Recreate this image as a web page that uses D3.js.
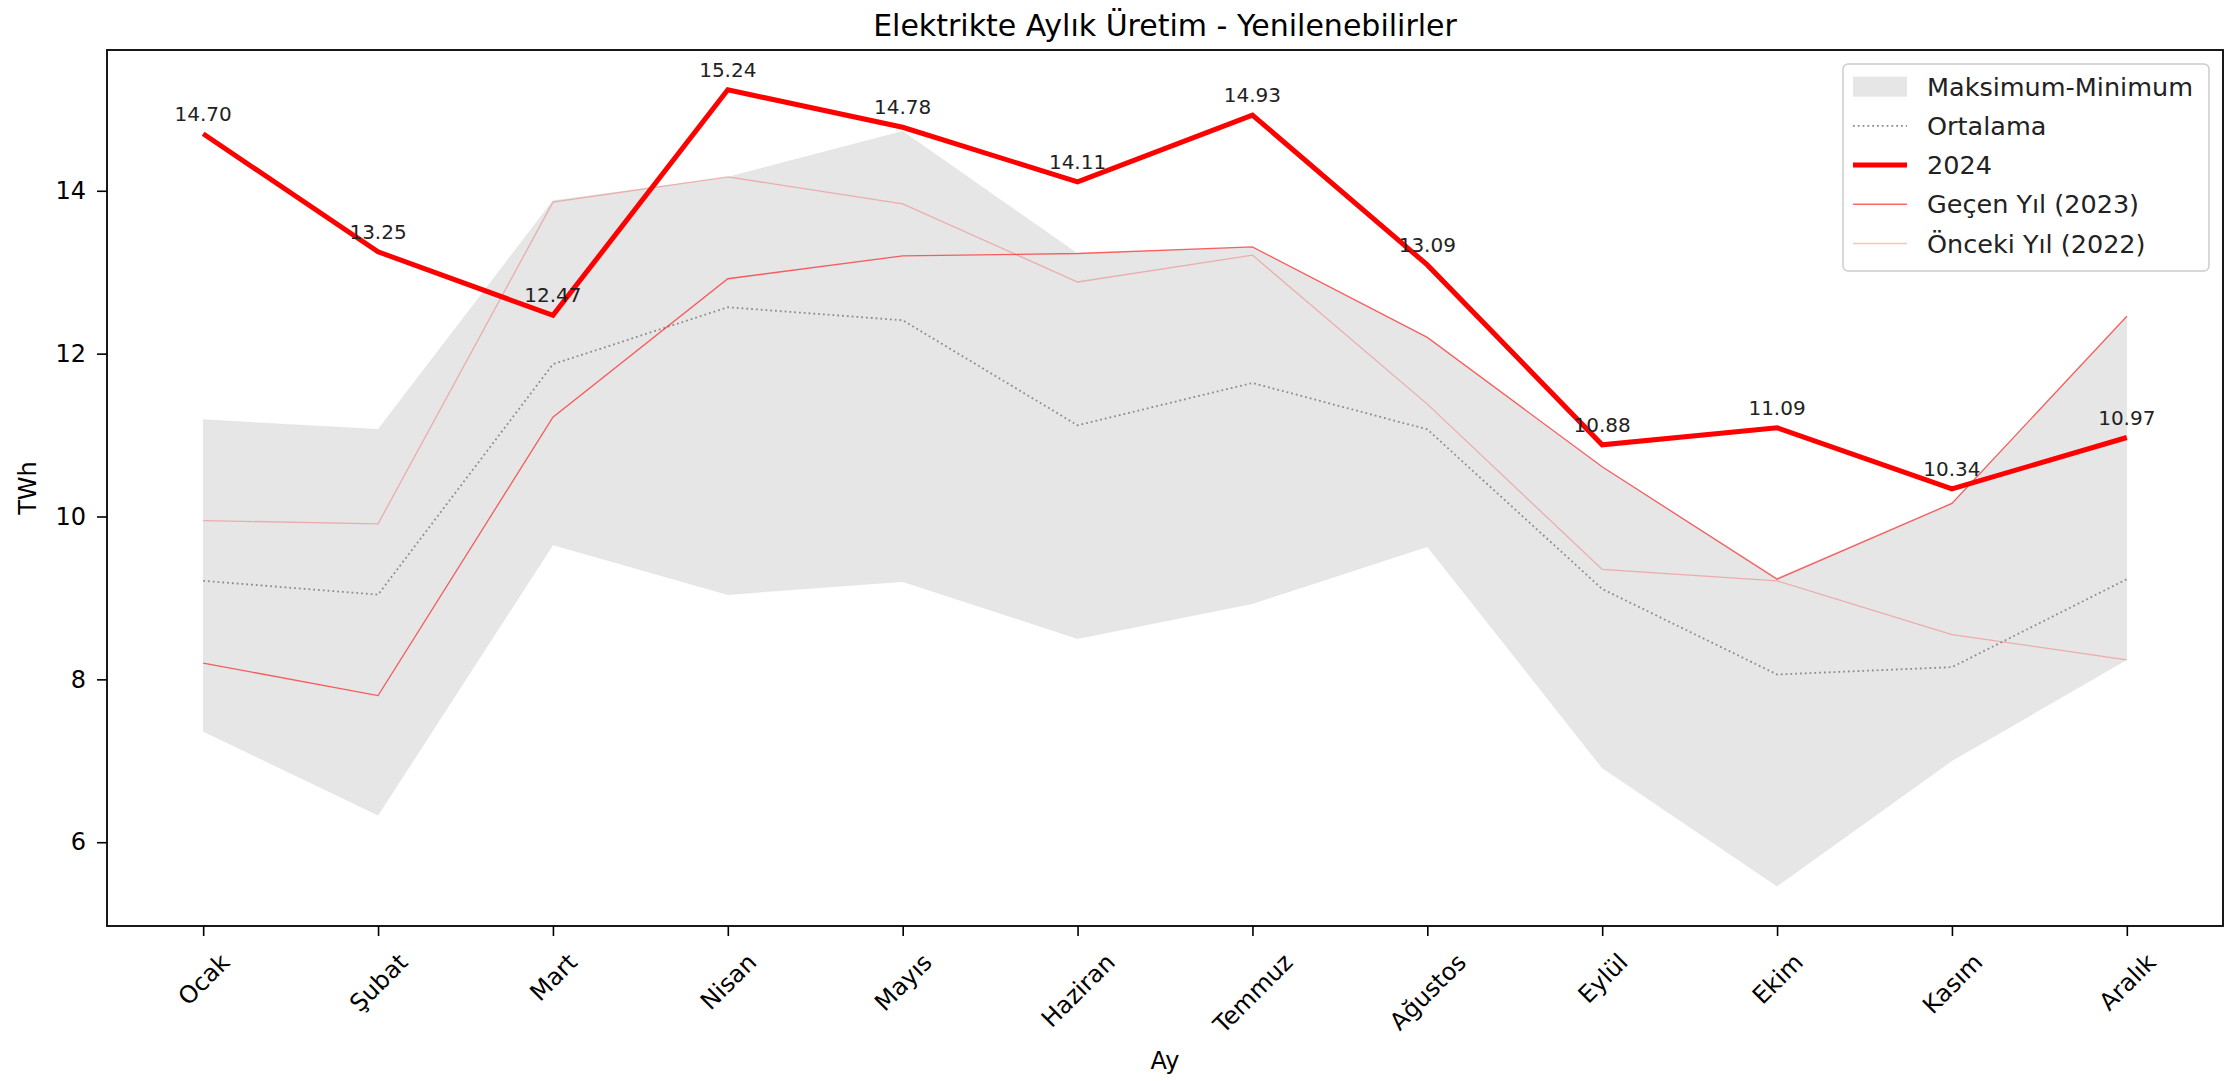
<!DOCTYPE html>
<html>
<head>
<meta charset="utf-8">
<script src="https://cdn.jsdelivr.net/npm/d3@7"></script>
<style>
  body { margin: 0; background: #fff; }
  text { font-family: "DejaVu Sans", sans-serif; fill: #000; }
</style>
</head>
<body>
<div id="chart"></div>
<script>
var months = ["Ocak","Şubat","Mart","Nisan","Mayıs","Haziran","Temmuz","Ağustos","Eylül","Ekim","Kasım","Aralık"];
var maxVals = [11.19, 11.07, 13.88, 14.17, 14.73, 13.23, 13.31, 12.20, 10.61, 9.25, 10.17, 12.46];
var minVals = [7.36, 6.33, 9.65, 9.04, 9.20, 8.50, 8.93, 9.63, 6.91, 5.46, 7.00, 8.24];
var avgVals = [9.21, 9.04, 11.87, 12.57, 12.41, 11.12, 11.64, 11.07, 9.11, 8.06, 8.15, 9.23];
var vals2024 = [14.70, 13.25, 12.47, 15.24, 14.78, 14.11, 14.93, 13.09, 10.88, 11.09, 10.34, 10.97];
var vals2023 = [8.20, 7.80, 11.22, 12.92, 13.20, 13.23, 13.31, 12.20, 10.61, 9.23, 10.16, 12.46];
var vals2022 = [9.95, 9.91, 13.86, 14.17, 13.84, 12.88, 13.21, 11.38, 9.35, 9.21, 8.55, 8.24];
var yTicks = [6, 8, 10, 12, 14];
var legendLabels = ["Maksimum-Minimum", "Ortalama", "2024", "Geçen Yıl (2023)", "Önceki Yıl (2022)"];

var width = 2229, height = 1081;
var margin = {top: 50, left: 107, right: 6, bottom: 155};
var fs = 24;

var svg = d3.select("#chart")
  .append("svg")
  .attr("width", width)
  .attr("height", height);

var xScale = d3.scalePoint()
  .domain(months)
  .range([margin.left, width - margin.right])
  .padding(0.55);

var all = maxVals.concat(minVals, avgVals, vals2024, vals2023, vals2022);
var lo = d3.min(all), hi = d3.max(all), pad = (hi - lo) * 0.05;
var yScale = d3.scaleLinear()
  .domain([lo - pad, hi + pad])
  .range([height - margin.bottom, margin.top]);

var rows = months.map(function(m, i) {
  return {m: m, max: maxVals[i], min: minVals[i], avg: avgVals[i], v24: vals2024[i], v23: vals2023[i], v22: vals2022[i]};
});

// band
var area = d3.area()
  .x(function(d) { return xScale(d.m); })
  .y0(function(d) { return yScale(d.min); })
  .y1(function(d) { return yScale(d.max); });

svg.append("path")
  .datum(rows)
  .attr("d", area)
  .attr("fill", "#808080")
  .attr("fill-opacity", 0.2)
  .attr("stroke", "#808080")
  .attr("stroke-opacity", 0.05);

function line(key) {
  return d3.line()
    .x(function(d) { return xScale(d.m); })
    .y(function(d) { return yScale(d[key]); });
}

svg.append("path").datum(rows).attr("d", line("avg"))
  .attr("fill", "none").attr("stroke", "#8c8c8c").attr("stroke-width", 1.8)
  .attr("stroke-dasharray", "1.8,3");

svg.append("path").datum(rows).attr("d", line("v22"))
  .attr("fill", "none").attr("stroke", "red").attr("stroke-opacity", 0.25).attr("stroke-width", 1.3);

svg.append("path").datum(rows).attr("d", line("v23"))
  .attr("fill", "none").attr("stroke", "red").attr("stroke-opacity", 0.6).attr("stroke-width", 1.3);

svg.append("path").datum(rows).attr("d", line("v24"))
  .attr("fill", "none").attr("stroke", "red").attr("stroke-width", 5)
  .attr("stroke-linejoin", "miter");

// value labels
svg.selectAll(".vlab")
  .data(rows)
  .enter()
  .append("text")
    .attr("class", "vlab")
    .attr("x", function(d) { return xScale(d.m); })
    .attr("y", function(d) { return yScale(d.v24) - 13; })
    .attr("text-anchor", "middle")
    .style("font-size", "20px")
    .style("fill", "#222")
    .text(function(d) { return d.v24.toFixed(2); });

// axes
var xAxis = svg.append("g")
  .attr("transform", `translate(0,${height - margin.bottom})`)
  .call(d3.axisBottom(xScale).tickSize(10).tickSizeOuter(0));
xAxis.select(".domain").remove();
xAxis.selectAll(".tick line").attr("stroke", "#000").attr("stroke-width", 1.6);
xAxis.selectAll(".tick text")
  .style("font-size", fs + "px")
  .attr("fill", "#222")
  .attr("text-anchor", "middle")
  .attr("y", 0)
  .attr("dy", "0.35em")
  .attr("transform", function() {
    var w = this.getComputedTextLength();
    var h = fs * 1.164;
    var rh = (w + h) / Math.SQRT2;
    return `translate(0,${10 + 12 + rh / 2}) rotate(-45)`;
  });

var yAxis = svg.append("g")
  .attr("transform", `translate(${margin.left},0)`)
  .call(d3.axisLeft(yScale).tickValues(yTicks).tickSize(10).tickPadding(11).tickSizeOuter(0));
yAxis.select(".domain").remove();
yAxis.selectAll(".tick line").attr("stroke", "#000").attr("stroke-width", 1.6);
yAxis.selectAll(".tick text").style("font-size", fs + "px").attr("fill", "#222");

// frame
svg.append("rect")
  .attr("x", margin.left)
  .attr("y", margin.top)
  .attr("width", width - margin.right - margin.left)
  .attr("height", height - margin.bottom - margin.top)
  .attr("fill", "none")
  .attr("stroke", "#000")
  .attr("stroke-width", 1.8);

// titles
var cx = (margin.left + width - margin.right) / 2;
svg.append("text")
  .attr("x", cx)
  .attr("y", 36)
  .attr("text-anchor", "middle")
  .style("font-size", "30px")
  .text("Elektrikte Aylık Üretim - Yenilenebilirler");

svg.append("text")
  .attr("x", cx)
  .attr("y", 1069)
  .attr("text-anchor", "middle")
  .style("font-size", fs + "px")
  .text("Ay");

svg.append("text")
  .attr("transform", `translate(36,${(margin.top + height - margin.bottom) / 2}) rotate(-90)`)
  .attr("text-anchor", "middle")
  .style("font-size", fs + "px")
  .text("TWh");

// legend
var lgX = 1843, lgY = 64, lgW = 366, lgH = 207, rowH = 39.2;
var legend = svg.append("g");
legend.append("rect")
  .attr("x", lgX).attr("y", lgY)
  .attr("width", lgW).attr("height", lgH)
  .attr("rx", 5)
  .attr("fill", "#fff").attr("fill-opacity", 0.8)
  .attr("stroke", "#ccc").attr("stroke-width", 1.5);

var styles = [
  {type: "patch"},
  {color: "#8c8c8c", op: 1, w: 1.8, dash: "1.8,3"},
  {color: "red", op: 1, w: 5},
  {color: "red", op: 0.6, w: 1.5},
  {color: "red", op: 0.25, w: 1.5}
];

legendLabels.forEach(function(lab, i) {
  var yy = lgY + 22.7 + i * rowH;
  var s = styles[i];
  if (s.type === "patch") {
    legend.append("rect")
      .attr("x", 1853).attr("y", yy - 10)
      .attr("width", 54).attr("height", 20)
      .attr("fill", "#808080").attr("fill-opacity", 0.2);
  } else {
    legend.append("line")
      .attr("x1", 1853).attr("x2", 1907)
      .attr("y1", yy).attr("y2", yy)
      .attr("stroke", s.color).attr("stroke-opacity", s.op)
      .attr("stroke-width", s.w)
      .attr("stroke-dasharray", s.dash || null);
  }
  legend.append("text")
    .attr("x", 1927)
    .attr("y", yy)
    .attr("dy", "0.36em")
    .style("font-size", "25.5px")
    .style("fill", "#222")
    .text(lab);
});
</script>
</body>
</html>
